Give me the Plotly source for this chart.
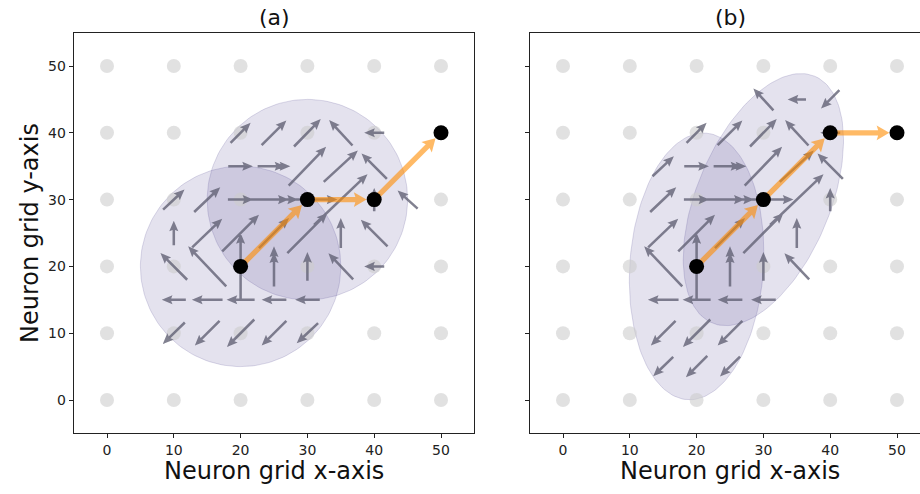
import math
import plotly.graph_objects as go

FONT = "DejaVu Sans"

# axis ticks and the lattice of neurons (grey dots)
TICKS = [0, 10, 20, 30, 40, 50]
NEURON_COORDS = [0, 10, 20, 30, 40, 50]

# local vector field sampled every 5 units: position (x, y) and vector (u, v)
FIELD_X = [15, 20, 25,
           10, 15, 20, 25, 30,
           10, 15, 20, 25, 30,
           10, 15, 20, 25, 30, 35, 40,
           10, 15, 20, 25, 30, 35, 40,
           10, 15, 20, 25, 30, 35, 40, 45,
           15, 20, 25, 30, 35, 40,
           20, 25, 30, 35, 40,
           30, 35, 40]
FIELD_Y = [5, 5, 5,
           10, 10, 10, 10, 10,
           15, 15, 15, 15, 15,
           20, 20, 20, 20, 20, 20, 20,
           25, 25, 25, 25, 25, 25, 25,
           30, 30, 30, 30, 30, 30, 30, 30,
           35, 35, 35, 35, 35, 35,
           40, 40, 40, 40, 40,
           45, 45, 45]
FIELD_U = [-3.0, -3.2, -3.0,
           -3.3, -3.7, -4.1, -3.7, -3.2,
           -3.6, -4.6, -4.2, -3.7, -3.7,
           -4.0, -5.7, 0.0, 0.0, 0.0, -3.7, -3.0,
           0.0, 4.5, 5.5, 4.5, 6.0, 0.0, -4.0,
           3.2, 3.9, 3.8, 7.2, 9.0, 8.0, 0.0, -3.0,
           3.2, 3.7, 4.9, 5.6, 5.1, -3.8,
           3.0, 3.7, 4.0, -3.5, -3.0,
           -3.0, -2.75, -2.75]
FIELD_V = [-2.9, -3.2, -3.0,
           -3.2, -3.7, -4.1, -3.7, -3.0,
           0.0, 0.0, 0.0, 0.0, 0.0,
           4.0, 6.0, 10.0, 6.0, 4.3, 3.9, 0.0,
           3.7, 4.3, 5.5, 4.5, 6.0, 4.5, 4.0,
           3.0, 3.7, 0.0, 0.0, 0.0, 7.6, 3.5, 2.7,
           3.0, 0.0, 0.0, 5.8, 4.7, 3.8,
           3.0, 3.7, 4.1, 3.8, 0.0,
           3.3, 0.0, -2.75]
# which samples fall inside the activity regions of panel (a) and panel (b)
IN_A = [0, 0, 0,
        1, 1, 1, 1, 1,
        1, 1, 1, 1, 1,
        1, 1, 1, 1, 1, 1, 1,
        1, 1, 1, 1, 1, 1, 1,
        1, 1, 1, 1, 1, 1, 1, 1,
        0, 1, 1, 1, 1, 1,
        1, 1, 1, 1, 1,
        0, 0, 0]
IN_B = [1, 1, 1,
        0, 1, 1, 1, 0,
        0, 1, 1, 1, 1,
        0, 1, 1, 1, 1, 1, 0,
        0, 1, 1, 1, 1, 1, 0,
        0, 1, 1, 1, 1, 1, 1, 0,
        1, 1, 1, 1, 1, 1,
        1, 1, 1, 1, 1,
        1, 1, 1]

# samples shared by both regions, where the second region's shorter vector shows
OVERLAP_X = [25, 25, 25]
OVERLAP_Y = [20, 30, 35]
OVERLAP_U = [0.0, 4.4, 3.4]
OVERLAP_V = [4.2, 0.0, 0.0]

# activity regions: centre, semi-axes, orientation (deg)
REGION_A_CX = [20, 30]
REGION_A_CY = [20, 30]
REGION_A_MAJOR = [15, 15]
REGION_A_MINOR = [15, 15]
REGION_A_ANGLE = [0, 0]
REGION_B_CX = [20, 30]
REGION_B_CY = [20, 30]
REGION_B_MAJOR = [20, 20]
REGION_B_MINOR = [10, 10]
REGION_B_ANGLE = [86, 67.5]

# trajectory of the bump centre
PATH_A_X = [20, 30, 40, 50]
PATH_A_Y = [20, 30, 30, 40]
PATH_B_X = [20, 30, 40, 50]
PATH_B_Y = [20, 30, 40, 40]

GREY_ARROW = "rgba(98,98,116,0.8)"
ORANGE = "rgba(255,140,0,0.6)"
REGION_FILL = "rgba(72,61,139,0.15)"
REGION_EDGE = "rgba(72,61,139,0.18)"


def ellipse_xy(cx, cy, a, b, ang, n=160):
    th = math.radians(ang)
    xs, ys = [], []
    for k in range(n + 1):
        t = 2 * math.pi * k / n
        ex, ey = a * math.cos(t), b * math.sin(t)
        xs.append(cx + ex * math.cos(th) - ey * math.sin(th))
        ys.append(cy + ex * math.sin(th) + ey * math.cos(th))
    return xs, ys


def arrow_polys(tails, tips, shaft_hw, head_hw, head_len):
    px, py = [], []
    for (x0, y0), (x1, y1) in zip(tails, tips):
        L = math.hypot(x1 - x0, y1 - y0)
        if L == 0:
            continue
        dx, dy = (x1 - x0) / L, (y1 - y0) / L
        nx, ny = -dy, dx
        hl = min(head_len, 0.6 * L)
        hw = head_hw * hl / head_len
        sw = shaft_hw
        bx, by = x1 - dx * hl, y1 - dy * hl
        kx, ky = x1 - dx * hl * 0.88, y1 - dy * hl * 0.88
        pts = [(x0 + nx * sw, y0 + ny * sw), (kx + nx * sw, ky + ny * sw),
               (bx + nx * hw, by + ny * hw), (x1, y1),
               (bx - nx * hw, by - ny * hw), (kx - nx * sw, ky - ny * sw),
               (x0 - nx * sw, y0 - ny * sw), (x0 + nx * sw, y0 + ny * sw)]
        for p in pts:
            px.append(p[0])
            py.append(p[1])
        px.append(None)
        py.append(None)
    return px, py


def quiver(xs, ys, us, vs):
    tails = [(x - u / 2, y - v / 2) for x, y, u, v in zip(xs, ys, us, vs)]
    tips = [(x + u / 2, y + v / 2) for x, y, u, v in zip(xs, ys, us, vs)]
    return arrow_polys(tails, tips, 0.19, 0.68, 1.6)


def path_arrows(xs, ys, gap=1.15):
    tails, tips = [], []
    for i in range(len(xs) - 1):
        L = math.hypot(xs[i + 1] - xs[i], ys[i + 1] - ys[i])
        dx, dy = (xs[i + 1] - xs[i]) / L, (ys[i + 1] - ys[i]) / L
        tails.append((xs[i], ys[i]))
        tips.append((xs[i + 1] - dx * gap, ys[i + 1] - dy * gap))
    return arrow_polys(tails, tips, 0.4, 1.1, 1.9)


fig = go.Figure()


def add_panel(xa, ya, region, mask, path_x, path_y):
    cxs, cys, majs, mins, angs = region
    for cx, cy, a, b, ang in zip(cxs, cys, majs, mins, angs):
        ex, ey = ellipse_xy(cx, cy, a, b, ang)
        fig.add_trace(go.Scatter(x=ex, y=ey, mode="lines", fill="toself",
                                 fillcolor=REGION_FILL,
                                 line=dict(color=REGION_EDGE, width=1),
                                 xaxis=xa, yaxis=ya, hoverinfo="skip"))
    gx = [x for y in NEURON_COORDS for x in NEURON_COORDS]
    gy = [y for y in NEURON_COORDS for x in NEURON_COORDS]
    fig.add_trace(go.Scatter(x=gx, y=gy, mode="markers",
                             marker=dict(size=14, color="rgba(205,205,205,0.6)"),
                             xaxis=xa, yaxis=ya, hoverinfo="skip"))
    sel = [i for i, m in enumerate(mask) if m]
    qx, qy = quiver([FIELD_X[i] for i in sel], [FIELD_Y[i] for i in sel],
                    [FIELD_U[i] for i in sel], [FIELD_V[i] for i in sel])
    ox, oy = quiver(OVERLAP_X, OVERLAP_Y, OVERLAP_U, OVERLAP_V)
    fig.add_trace(go.Scatter(x=qx + ox, y=qy + oy, mode="lines", fill="toself",
                             fillcolor=GREY_ARROW, line=dict(width=0),
                             xaxis=xa, yaxis=ya, hoverinfo="skip"))
    ax_, ay_ = path_arrows(path_x, path_y)
    fig.add_trace(go.Scatter(x=ax_, y=ay_, mode="lines", fill="toself",
                             fillcolor=ORANGE, line=dict(width=0),
                             xaxis=xa, yaxis=ya, hoverinfo="skip"))
    fig.add_trace(go.Scatter(x=path_x, y=path_y, mode="markers",
                             marker=dict(size=15, color="black"),
                             xaxis=xa, yaxis=ya, hoverinfo="skip"))


add_panel("x", "y",
          (REGION_A_CX, REGION_A_CY, REGION_A_MAJOR, REGION_A_MINOR, REGION_A_ANGLE),
          IN_A, PATH_A_X, PATH_A_Y)
add_panel("x2", "y2",
          (REGION_B_CX, REGION_B_CY, REGION_B_MAJOR, REGION_B_MINOR, REGION_B_ANGLE),
          IN_B, PATH_B_X, PATH_B_Y)

W, H = 920, 494
PX_PER_UNIT = 6.68
a_left, a_right = 73.6, 474.4
b_left = 529.6
top, bottom = 32.6, 433.4

axis_style = dict(tickvals=TICKS, ticks="outside", ticklen=4, tickwidth=1,
                  tickcolor="#222", showline=True, linecolor="#222", linewidth=1,
                  showgrid=False, zeroline=False,
                  tickfont=dict(family=FONT, size=14, color="#222"))

fig.update_layout(
    width=W, height=H,
    margin=dict(l=0, r=0, t=0, b=0),
    paper_bgcolor="white", plot_bgcolor="white",
    showlegend=False, hovermode=False,
    xaxis=dict(domain=[a_left / W, a_right / W], range=[-5, 55],
               anchor="y", mirror=True, **axis_style),
    yaxis=dict(domain=[(H - bottom) / H, (H - top) / H], range=[-5, 55],
               anchor="x", mirror=True, **axis_style),
    xaxis2=dict(domain=[b_left / W, 1.0],
                range=[-5, -5 + (W - b_left) / PX_PER_UNIT],
                anchor="y2", mirror=True, **axis_style),
    yaxis2=dict(domain=[(H - bottom) / H, (H - top) / H], range=[-5, 55],
                anchor="x2", showticklabels=False, **axis_style),
)

b_center = (b_left + b_left + 60 * PX_PER_UNIT) / 2
labels = [
    ("(a)", (a_left + a_right) / 2, 17, 22, 0),
    ("(b)", b_center, 17, 22, 0),
    ("Neuron grid x-axis", (a_left + a_right) / 2, 471, 24, 0),
    ("Neuron grid x-axis", b_center, 471, 24, 0),
    ("Neuron grid y-axis", 30, (top + bottom) / 2, 24, -90),
]
for text, xp, yp, size, rot in labels:
    fig.add_annotation(text=text, xref="paper", yref="paper",
                       x=xp / W, y=(H - yp) / H, xanchor="center", yanchor="middle",
                       showarrow=False, textangle=rot,
                       font=dict(family=FONT, size=size, color="#111"))

fig.write_html("out.html")
